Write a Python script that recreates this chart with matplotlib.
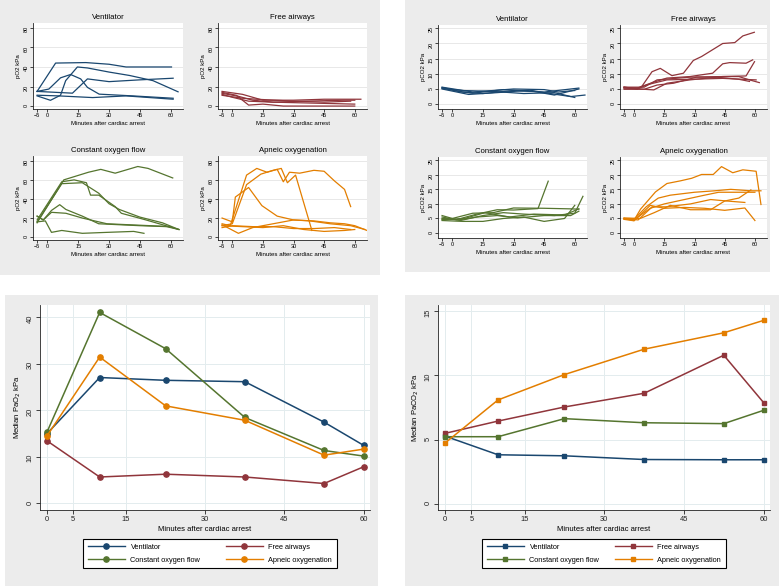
import matplotlib
matplotlib.use('Agg')
import matplotlib.pyplot as plt
from matplotlib.patches import Rectangle
from matplotlib.lines import Line2D

plt.rcParams['font.family'] = ['Liberation Sans', 'DejaVu Sans']

W, H = 779, 586

navy = '#1a476f'
maroon = '#90353b'
green = '#55752f'
orange = '#e37e00'
panel_grey = '#ececec'

groups = ['Ventilator', 'Free airways', 'Constant oxygen flow', 'Apneic oxygenation']
group_colors = [navy, maroon, green, orange]

# individual animals, pO2 (kPa)
vent_po2 = [
    ([-5, 4, 18.7, 30, 38.3, 60.4], [15, 44, 44.5, 42.8, 40, 40]),
    ([-5, 12.2, 19.5, 30, 44.8, 61.2], [15, 13.2, 27.8, 25, 26.8, 28.5]),
    ([-5, 1.5, 6.4, 8.9, 14.6, 19.5, 30, 40, 51.4, 63.6], [10.4, 5.9, 11.1, 26, 40, 39, 34.8, 31.3, 26, 14.6]),
    ([-5, 0.7, 6.4, 11.3, 16.2, 19.5, 25.2, 41.6, 61.2], [15, 17.4, 28.9, 32.3, 27.8, 19.1, 12.2, 10.4, 8]),
    ([-5, 5.6, 22, 38.3, 61.2], [11.1, 10.4, 8.7, 10.4, 7]),
]
free_po2 = [
    ([-5, 5, 15, 30, 45, 63], [15, 12, 6, 6, 7, 7]),
    ([-5, 3, 10, 20, 40, 60], [13, 10, 6, 4, 3, 2]),
    ([-5, 0, 8, 20, 35, 55, 60], [12, 9, 5, 4, 5, 6, 6]),
    ([-5, 2, 8, 15, 25, 40, 60], [14, 11, 1, 2, 0, 0, 0]),
    ([-5, 5, 12, 30, 45, 58], [11, 8, 7, 5, 4, 5]),
]
const_po2 = [
    ([-5, 8, 20, 26, 33, 44, 49, 61], [15, 60, 68, 71, 67, 74, 72, 62]),
    ([-5, 7, 13, 19, 21, 25, 33, 36, 48, 64], [18, 58, 60, 57, 44, 44, 32, 25, 18, 8]),
    ([-5, 7, 17, 25, 30, 35, 45, 56, 64], [16, 56, 57, 46, 35, 29, 21, 15, 8]),
    ([-5, -2, 2, 6, 9, 17, 25, 45, 58, 64], [22, 18, 28, 34, 29, 22, 14, 12, 11, 8]),
    ([-5, -2, 2, 9, 17, 29, 50, 60], [22, 18, 26, 25, 20, 14, 12, 11]),
    ([-5, -1, 2, 7, 17, 29, 42, 47], [16, 17, 5, 7, 4, 5, 6, 4]),
]
apn_po2 = [
    ([-5, -1, 7, 12, 17, 22, 25, 28, 33, 40, 45, 50, 55, 58], [14, 12, 65, 72, 68, 71, 58, 68, 67, 70, 69, 59, 50, 32]),
    ([-5, 0, 7, 14, 20, 24, 27, 31, 39], [12, 14, 55, 66, 70, 72, 57, 65, 7]),
    ([-5, 0, 1.5, 8, 14.5, 22, 30, 38, 48, 58, 65], [20, 16, 42, 52, 33, 22, 18, 17, 14, 12, 8]),
    ([-5, 3, 10, 20, 30, 40, 48, 55, 60, 66], [13, 4, 10, 14, 18, 17, 15, 14, 12, 7]),
    ([-5, 5, 15, 25, 35, 45, 55, 60], [12, 11, 10, 12, 8, 6, 7, 8]),
    ([-5, 0, 10, 20, 30, 40, 50, 58], [10, 12, 11, 11, 9, 9, 10, 8]),
]

# individual animals, pCO2 (kPa)
vent_pco2 = [
    ([-5, 5, 15, 30, 45, 62], [5.5, 4, 3.5, 4.5, 4, 5.3]),
    ([-5, 3, 10, 25, 40, 50, 62], [5.3, 4.2, 3.6, 4.8, 4.2, 3, 5.0]),
    ([-5, 5, 20, 35, 50, 60], [5.2, 4.5, 4.2, 3.5, 3.8, 2.2]),
    ([-5, 8, 22, 38, 48, 58, 65], [5.0, 3.2, 3.8, 4.6, 3.5, 2.5, 3.0]),
    ([-5, 10, 30, 45, 52, 60], [5.6, 4.0, 5.0, 4.8, 4.0, 4.5]),
]
free_pco2 = [
    ([-5, 1.6, 4, 8.9, 13, 18.8, 24.5, 29.4, 33.5, 44, 50, 54, 59.7], [5.6, 4.9, 6, 10.7, 11.8, 9.4, 10.2, 14.4, 15.7, 20, 20.3, 22.5, 23.7]),
    ([-5, 1.6, 9, 16.3, 27.8, 32.7, 39, 44, 47.5, 55.6, 58.9], [5.3, 5.3, 7.1, 8.6, 9.1, 9.6, 10.2, 13.3, 13.7, 13.5, 14.6]),
    ([-5, 5, 11.4, 27.8, 44, 55.6, 59.8], [5.6, 5.6, 8, 8.9, 9.1, 9.3, 14]),
    ([-5, 5, 9.8, 16.3, 27.8, 44, 52, 57.3, 62.2], [4.9, 4.9, 4.7, 6.9, 8, 9.1, 9.1, 8, 7.1]),
    ([-5, 2.4, 6.5, 16.3, 27.8, 44, 60.6], [5.3, 5.3, 6.4, 8, 8.2, 8.5, 8]),
    ([-5, 5, 11.4, 19.6, 31, 40.9, 52, 57.3], [5.6, 4.9, 6.3, 6.9, 8.9, 8.9, 8.2, 7.5]),
]
const_pco2 = [
    ([-5, 2, 12, 22, 30, 42, 47], [6, 4.6, 6.5, 8, 7.9, 8.4, 17.8]),
    ([-5, 4, 15, 25, 35, 50, 60, 64], [5.5, 4.3, 6, 7, 6.5, 6, 6.8, 12.6]),
    ([-5, 0, 10, 20, 30, 45, 58, 62], [4.8, 5, 6.8, 7, 8.6, 8.5, 8.3, 8.2]),
    ([-5, 5, 15, 25, 35, 45, 55, 60], [4.3, 4, 4, 5, 5.5, 4, 5, 9.5]),
    ([-5, 3, 12, 22, 32, 45, 58, 62], [5, 4.5, 5.5, 6, 5.2, 6, 6, 7.5]),
    ([-5, 6, 16, 28, 40, 55, 62], [4.6, 5, 7, 5.5, 6.5, 6.2, 8.3]),
]
apn_pco2 = [
    ([-5, -0.1, 3.2, 10.6, 16.3, 22.9, 28.6, 33.5, 39.3, 43.4, 49, 54, 60.6, 63], [5, 4.3, 8.2, 14.1, 17, 17.9, 18.8, 20.1, 20.1, 22.8, 20.7, 21.7, 21.2, 9.8]),
    ([-5, 0, 6, 12, 18, 30, 40, 48, 58, 63], [5, 4.7, 9, 12, 13, 14, 14.5, 15, 14.5, 14.5]),
    ([-5, 1, 8, 15, 25, 35, 42, 48, 56, 60], [4.8, 5, 8.5, 10, 11.5, 13, 14, 14, 14, 14]),
    ([-5, 2, 9, 16, 28, 38, 46, 55], [5, 4.5, 9, 9, 10, 11.5, 11, 10.5]),
    ([-5, 0, 8, 15, 25, 35, 45, 55, 60], [4.7, 4.2, 9.5, 8.5, 8.8, 8.5, 7.8, 8.6, 4.3]),
    ([-5, 3, 10, 18, 28, 38, 45, 52, 58], [5.2, 5, 7, 9.5, 8, 8, 11, 12, 14.8]),
]

# medians
median_times = [0, 10, 22.5, 37.5, 52.5, 60]
median_pao2 = [
    [14.9, 27.0, 26.4, 26.1, 17.4, 12.4],
    [13.4, 5.6, 6.2, 5.6, 4.2, 7.8],
    [15.2, 41.0, 33.2, 18.4, 11.3, 10.1],
    [14.4, 31.4, 20.9, 17.8, 10.3, 11.6],
]
median_paco2 = [
    [5.27, 3.81, 3.73, 3.44, 3.42, 3.42],
    [5.48, 6.44, 7.54, 8.61, 11.58, 7.88],
    [5.22, 5.22, 6.63, 6.31, 6.24, 7.28],
    [4.72, 8.09, 10.07, 12.05, 13.33, 14.30],
]

fig = plt.figure(figsize=(W / 100, H / 100), dpi=100)
fig.patch.set_facecolor('white')


def rect(l, t, r, b):
    return [l / W, 1 - b / H, (r - l) / W, (b - t) / H]


def grey_panel(l, t, r, b):
    x, y, w, h = rect(l, t, r, b)
    fig.patches.append(Rectangle((x, y), w, h, transform=fig.transFigure,
                                 facecolor=panel_grey, edgecolor='none', zorder=-10))


def style_axes(ax):
    ax.set_facecolor('white')
    for s in ['top', 'right']:
        ax.spines[s].set_visible(False)
    for s in ['left', 'bottom']:
        ax.spines[s].set_linewidth(0.6)
        ax.spines[s].set_color('#222222')
    ax.set_axisbelow(True)


def spaghetti(box, lines, color, title, ylab, yticks, ylim):
    ax = fig.add_axes(rect(*box))
    style_axes(ax)
    for t, v in lines:
        ax.plot(t, v, color=color, lw=0.9, solid_joinstyle='round')
    ax.set_xlim(-7, 66)
    ax.set_ylim(ylim)
    ax.set_xticks([-5, 0, 15, 30, 45, 60])
    ax.set_yticks(yticks)
    ax.tick_params(labelsize=4, length=2, width=0.5, pad=1.2)
    ax.tick_params(axis='y', labelrotation=90)
    ax.yaxis.grid(True, color='#dedede', lw=0.5)
    ax.set_title(title, fontsize=5.6, pad=3)
    ax.set_xlabel('Minutes after cardiac arrest', fontsize=4.4, labelpad=2)
    ax.set_ylabel(ylab, fontsize=4.4, labelpad=2)
    return ax


def median_plot(box, series, ylab, yticks, ylim, msize, marker, legend_box):
    ax = fig.add_axes(rect(*box))
    style_axes(ax)
    handles = []
    for vals, c in zip(series, group_colors):
        ax.plot(median_times, vals, color=c, lw=1.1, marker=marker, ms=msize)
        handles.append(Line2D([], [], color=c, lw=1.0, marker=marker, ms=msize))
    ax.set_xlim(-1.3, 61.2)
    ax.set_ylim(ylim)
    ax.set_xticks([0, 5, 15, 30, 45, 60])
    ax.set_yticks(yticks)
    ax.tick_params(labelsize=5.4, length=3, width=0.6, pad=1.5, colors='#222222')
    ax.tick_params(axis='y', labelrotation=90)
    ax.grid(True, color='#e3ecee', lw=0.7)
    ax.set_xlabel('Minutes after cardiac arrest', fontsize=5.5, labelpad=2)
    ax.set_ylabel(ylab, fontsize=5.5, labelpad=3)
    l, t, r, b = legend_box
    order = [0, 2, 1, 3]
    leg = fig.legend([handles[i] for i in order], [groups[i] for i in order],
                     loc='upper left', bbox_to_anchor=(l / W, 1 - b / H, (r - l) / W, (b - t) / H),
                     mode='expand', ncol=2, fontsize=5.3, handlelength=5.0,
                     handletextpad=0.8, labelspacing=0.75, borderpad=0.65,
                     borderaxespad=0, fancybox=False, framealpha=1,
                     edgecolor='black')
    leg.get_frame().set_linewidth(0.8)
    return ax


grey_panel(0, 0, 380, 275)
grey_panel(405, 0, 770, 272)
grey_panel(5, 295, 378, 586)
grey_panel(405, 295, 779, 586)

po2_ticks = [0, 20, 40, 60, 80]
pco2_ticks = [0, 5, 10, 15, 20, 25]

spaghetti((33, 23, 183, 109), vent_po2, navy, 'Ventilator', 'pO2 kPa', po2_ticks, (-3, 85))
spaghetti((218, 23, 367, 109), free_po2, maroon, 'Free airways', 'pO2 kPa', po2_ticks, (-3, 85))
spaghetti((33, 156, 183, 240), const_po2, green, 'Constant oxygen flow', 'pO2 kPa', po2_ticks, (-3, 85))
spaghetti((218, 156, 367, 240), apn_po2, orange, 'Apneic oxygenation', 'pO2 kPa', po2_ticks, (-3, 85))

spaghetti((438, 25, 587, 109), vent_pco2, navy, 'Ventilator', 'pCO2 kPa', pco2_ticks, (-1.6, 26.1))
spaghetti((620, 25, 767, 109), free_pco2, maroon, 'Free airways', 'pCO2 kPa', pco2_ticks, (-1.6, 26.1))
spaghetti((438, 157, 587, 238), const_pco2, green, 'Constant oxygen flow', 'pCO2 kPa', pco2_ticks, (-1.7, 26.1))
spaghetti((620, 157, 767, 238), apn_pco2, orange, 'Apneic oxygenation', 'pCO2 kPa', pco2_ticks, (-1.7, 26.1))

median_plot((40, 305, 370, 510), median_pao2, 'Median PaO$_2$ kPa', [0, 10, 20, 30, 40],
            (-1.5, 42.6), 3.8, 'o', (83, 539, 337, 572))
median_plot((438, 305, 770, 510), median_paco2, 'Median PaCO$_2$ kPa', [0, 5, 10, 15],
            (-0.5, 15.5), 2.4, 's', (482, 539, 726, 572))

fig.savefig('out.png', dpi=100, facecolor='white')
